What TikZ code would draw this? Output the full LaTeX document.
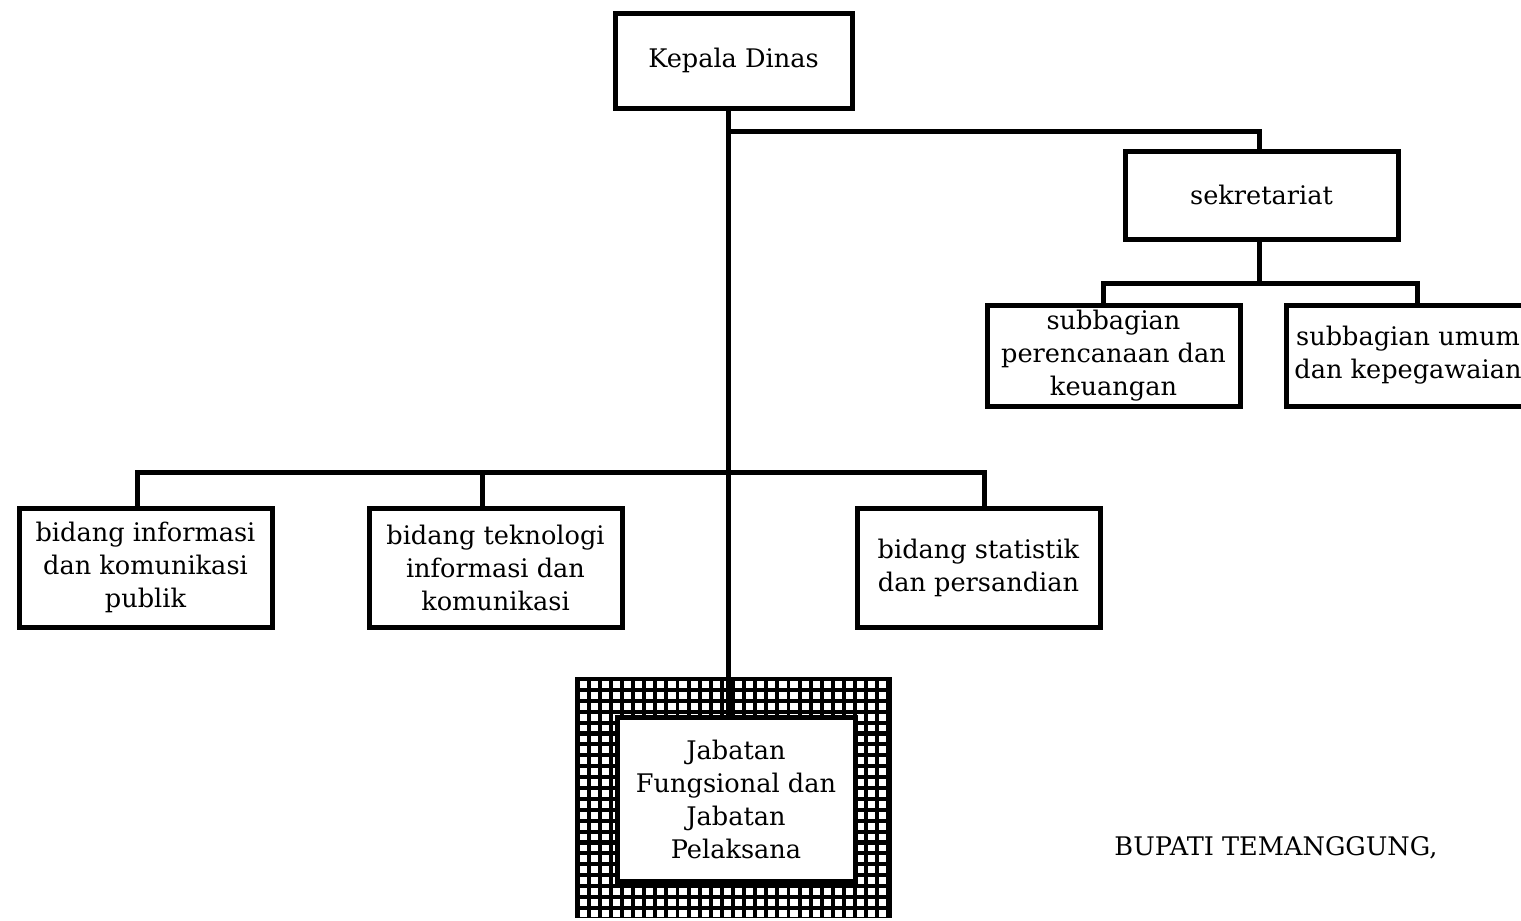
\documentclass[tikz,border=0pt]{standalone}
\usepackage{fontspec}
\setmainfont{DejaVu Serif}
\begin{document}
\begin{tikzpicture}[x=0.5pt,y=-0.5pt,
  box/.style={draw,line width=2.5pt,align=center,inner sep=0pt,fill=white,
    font=\fontsize{12.8}{16.5}\selectfont},
  conn/.style={line width=2.5pt}]
\useasboundingbox (0,0) rectangle (1521,921);
% patterned frame of the Jabatan box
\fill (575,677) rectangle (892,918);
\foreach \i in {0,...,27}
  \foreach \j in {0,...,21}
    \fill[white] ({579.5+11.1*\i},{681+10.9*\j}) rectangle ++(7.2,6.8);
% nodes
\node[box,minimum width=118.5pt,minimum height=47.5pt] (kepala) at (733.5,60.5) {Kepala Dinas};
\node[box,minimum width=136.5pt,minimum height=44pt] (sekr) at (1261.5,195) {sekretariat};
\node[box,minimum width=126.5pt,minimum height=50.5pt] (subA) at (1113.5,355.5) {subbagian\\perencanaan dan\\keuangan};
\node[box,minimum width=122pt,minimum height=50.5pt] (subB) at (1408,355.5) {subbagian umum\\dan kepegawaian};
\node[box,minimum width=126.5pt,minimum height=59.5pt] (bidA) at (145.5,567.5) {bidang informasi\\dan komunikasi\\publik};
\node[box,minimum width=126.5pt,minimum height=59.5pt] (bidB) at (495.5,567.5) {bidang teknologi\\informasi dan\\komunikasi};
\node[box,minimum width=121.5pt,minimum height=59.5pt] (bidC) at (978.5,567.5) {bidang statistik\\dan persandian};
\node[box,minimum width=119pt,minimum height=82pt] (jab) at (736,799) {Jabatan\\Fungsional dan\\Jabatan\\Pelaksana};
\node[font=\fontsize{12.8}{16.5}\selectfont,inner sep=0pt] (bupati) at (1276,848) {BUPATI TEMANGGUNG,};
% connector anchor coordinates
\coordinate (tx) at (728,0);
\coordinate (sx) at (1259,0);
\coordinate (ax) at (137,0);
\coordinate (bx) at (482,0);
\coordinate (cx) at (984,0);
\coordinate (pax) at (1103,0);
\coordinate (pbx) at (1417,0);
\coordinate (hy1) at (0,131);
\coordinate (hy2) at (0,472);
\coordinate (hy3) at (0,283);
% connectors
\draw[conn] (kepala.south -| tx) -- (jab.north -| tx);
\draw[conn] (hy1 -| tx) -- (hy1 -| sx) -- (sekr.north -| sx);
\draw[conn] (sekr.south -| sx) -- (hy3 -| sx);
\draw[conn] (subA.north -| pax) -- (hy3 -| pax) -- (hy3 -| pbx) -- (subB.north -| pbx);
\draw[conn] (bidA.north -| ax) -- (hy2 -| ax) -- (hy2 -| cx) -- (bidC.north -| cx);
\draw[conn] (hy2 -| bx) -- (bidB.north -| bx);
\end{tikzpicture}
\end{document}
